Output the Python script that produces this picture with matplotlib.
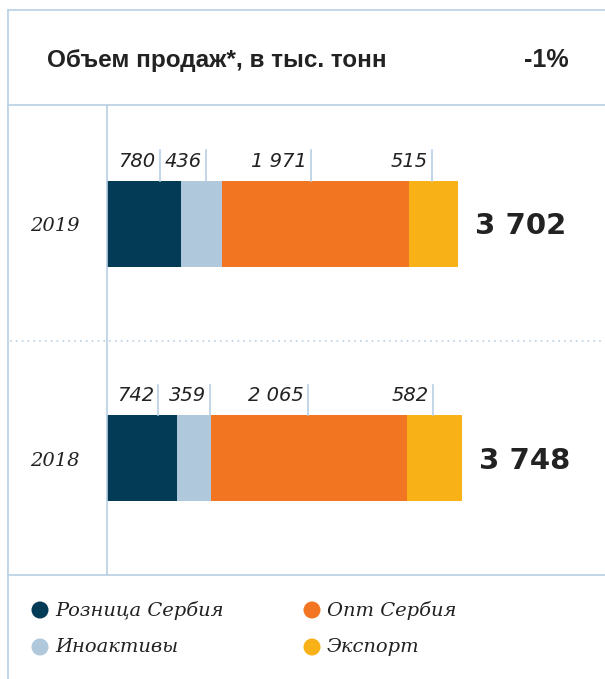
import matplotlib
matplotlib.use('Agg')
from matplotlib import pyplot as plt

# data
years = ['2019', '2018']
segments = ['Розница Сербия', 'Иноактивы', 'Опт Сербия', 'Экспорт']
retail = [780, 742]
inoactive = [436, 359]
wholesale = [1971, 2065]
export = [515, 582]
totals = ['3 702', '3 748']
value_labels = [['780', '436', '1 971', '515'],
                ['742', '359', '2 065', '582']]
title = 'Объем продаж*, в тыс. тонн'
change = '-1%'

# layout
colors = ['#033a56', '#b0c8dc', '#f27522', '#f8b218']
line_c = '#b9d0e4'
tick_x = [[559, 1044, 2152, 3428], [543, 1087, 2123, 3443]]
W, H = 605, 679
px = 0.0948  # pixels per unit

fig = plt.figure(figsize=(W / 100, H / 100), dpi=100)

# overlay in pixel coords for frame, header and legend
bg = fig.add_axes([0, 0, 1, 1])
bg.set_xlim(0, W)
bg.set_ylim(H, 0)
bg.axis('off')
lw = 1.2
bg.plot([8, 8], [10, H], color=line_c, lw=lw)
for y in (10, 105, 575):
    bg.plot([8, W], [y, y], color=line_c, lw=lw)
bg.text(47, 60, title, fontsize=17.5, fontweight='bold', family='Liberation Sans',
        color='#222222', va='center', ha='left')
bg.text(569, 60, change, fontsize=18, fontweight='bold', family='Liberation Sans',
        color='#222222', va='center', ha='right')

# legend
leg_pos = [(40, 610), (40, 647), (312, 610), (312, 647)]
for (lx, ly), name, c in zip(leg_pos, segments, colors):
    bg.scatter([lx], [ly], s=150, color=c, edgecolors='none')
    bg.text(lx + 15, ly, name, fontsize=14, family='DejaVu Serif', style='italic',
            color='#222222', va='center', ha='left')

# bars
ax = fig.add_axes([107 / W, 1 - 575 / H, 1 - 107 / W, 470 / H])
ax.set_xlim(0, 498 / px)
ax.set_ylim(1.497, -0.507)
ax.axis('off')
ypos = list(range(len(years)))
bh = 0.367
left = [0] * len(years)
for vals, c in zip([retail, inoactive, wholesale, export], colors):
    ax.barh(ypos, vals, left=left, height=bh, color=c, linewidth=0)
    left = [l + v for l, v in zip(left, vals)]

ax.plot([0, 0], [-0.507, 1.497], color=line_c, lw=lw, clip_on=False)
ax.plot([-97 / px, 498 / px], [0.5, 0.5], color=line_c, lw=1.2,
        linestyle=(0, (1, 2.5)), clip_on=False)

for i, y in enumerate(ypos):
    top = y - bh / 2
    for tx, lab in zip(tick_x[i], value_labels[i]):
        ax.plot([tx, tx], [top, top - 0.13], color=line_c, lw=lw)
        ax.text(tx - 45, top - 0.06, lab, fontsize=14, style='italic', color='#222222',
                ha='right', va='baseline')
    ax.text(-27 / px, y + 0.01, years[i], fontsize=14, family='DejaVu Serif',
            style='italic', color='#222222', ha='right', va='center')
    ax.text(left[i] + 175, y + 0.01, totals[i], fontsize=21, fontweight='bold',
            color='#222222', ha='left', va='center')

fig.savefig('out.png', dpi=100)
